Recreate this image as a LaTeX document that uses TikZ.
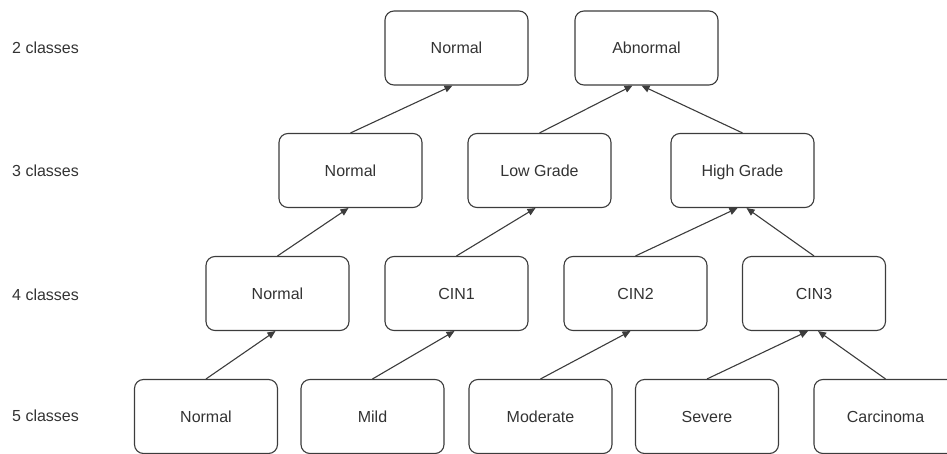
\documentclass[tikz,border=0pt]{standalone}
\usepackage{fontspec}
\setmainfont{Liberation Sans}
\usepackage{xcolor}
\usetikzlibrary{arrows.meta}
\definecolor{linegray}{HTML}{3C3C3C}
\definecolor{textgray}{HTML}{333333}

\begin{document}
\begin{tikzpicture}[x=1pt,y=1pt,
    font=\fontsize{16}{19}\selectfont,
    cls/.style={shape=rectangle, rounded corners=9pt, draw=linegray, line width=1.1pt,
      text=textgray, minimum width=143pt, minimum height=74pt, inner sep=0pt,
      text height=11.5pt, text depth=0pt},
    lvl/.style={anchor=west, text=textgray, inner sep=0pt},
    up/.style={draw=linegray, line width=1.1pt, -{Triangle[length=8pt,width=7pt]}}]
    \useasboundingbox (0,0) rectangle (947,-454);

    \node[lvl] (lab2) at (12,-48) {2 classes};
    \node[lvl] (lab3) at (12,-171) {3 classes};
    \node[lvl] (lab4) at (12,-295) {4 classes};
    \node[lvl] (lab5) at (12,-416) {5 classes};

    \node[cls] (twoN) at (456.5,-48) {Normal};
    \node[cls] (twoA) at (646.5,-48) {Abnormal};

    \node[cls] (threeN) at (350.5,-170.5) {Normal};
    \node[cls] (threeL) at (539.5,-170.5) {Low Grade};
    \node[cls] (threeH) at (742.5,-170.5) {High Grade};

    \node[cls] (fourN) at (277.5,-293.5) {Normal};
    \node[cls] (fourA) at (456.5,-293.5) {CIN1};
    \node[cls] (fourB) at (635.5,-293.5) {CIN2};
    \node[cls] (fourC) at (814,-293.5) {CIN3};

    \node[cls] (fiveN) at (206,-416.5) {Normal};
    \node[cls] (fiveM) at (372.5,-416.5) {Mild};
    \node[cls] (fiveO) at (540.5,-416.5) {Moderate};
    \node[cls] (fiveS) at (707,-416.5) {Severe};
    \node[cls] (fiveC) at (885.5,-416.5) {Carcinoma};

    \draw[up] (fiveN.north) -- ([xshift=-2pt]fourN.south);
    \draw[up] (fiveM.north) -- ([xshift=-2pt]fourA.south);
    \draw[up] (fiveO.north) -- ([xshift=-5pt]fourB.south);
    \draw[up] (fiveS.north) -- ([xshift=-6pt]fourC.south);
    \draw[up] (fiveC.north) -- ([xshift=4pt]fourC.south);

    \draw[up] (fourN.north) -- ([xshift=-2pt]threeN.south);
    \draw[up] (fourA.north) -- ([xshift=-4pt]threeL.south);
    \draw[up] (fourB.north) -- ([xshift=-5pt]threeH.south);
    \draw[up] (fourC.north) -- ([xshift=4pt]threeH.south);

    \draw[up] (threeN.north) -- ([xshift=-4pt]twoN.south);
    \draw[up] (threeL.north) -- ([xshift=-14pt]twoA.south);
    \draw[up] (threeH.north) -- ([xshift=-5pt]twoA.south);
  \end{tikzpicture}
\end{document}
